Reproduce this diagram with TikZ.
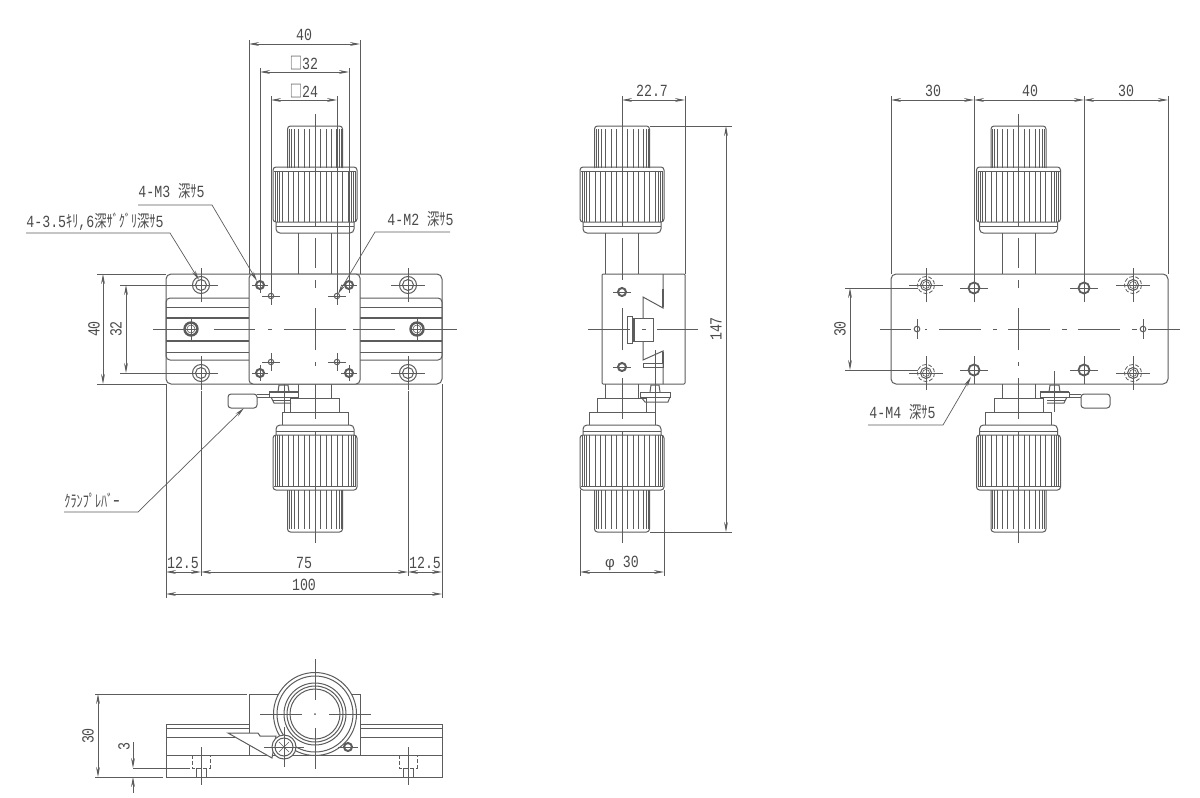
\documentclass[tikz,border=0pt]{standalone}
\usepackage{fontspec}
\setmainfont{Liberation Mono}[FakeStretch=0.78]
\newfontfamily\jpfont{Noto Sans CJK JP}[FakeStretch=0.72]
\newfontfamily\grfont{Liberation Sans}
\usetikzlibrary{arrows.meta, positioning}
\definecolor{lineink}{RGB}{92,92,92}
\definecolor{textink}{RGB}{75,75,75}
\tikzset{>={Stealth[length=5pt,width=1.9pt]},
  outl/.style={draw=lineink,line width=0.5pt},
  heavy/.style={draw=lineink,line width=1pt},
  fine/.style={draw=lineink,line width=0.3pt},
  cline/.style={draw=lineink,line width=0.4pt},
  dimln/.style={draw=lineink,line width=0.35pt},
  hidn/.style={draw=lineink,line width=0.4pt,dash pattern=on 2pt off 1pt},
  lbl/.style={font=\fontsize{8.5}{10}\selectfont,text=textink,inner sep=0pt}}
% one knob pair, centred on x=0
\newcommand{\knobpair}{
  \draw[outl,fill=white,rounded corners=1.5pt] (-27.5,168) -- (-27.5,126) -- (27.5,126) -- (27.5,168);
  \foreach \r in {0,5.5,11,16.5,21,24,26} {
    \draw[fine] (\r,129) -- (\r,168);
    \draw[fine] (-\r,129) -- (-\r,168);
    \draw[fine] (\r,490) -- (\r,529);
    \draw[fine] (-\r,490) -- (-\r,529);
  }
  \draw[outl,fill=none,rounded corners=1.5pt] (-27.5,490) -- (-27.5,532) -- (27.5,532) -- (27.5,490);
  \draw[outl,rounded corners=1.5pt] (-42,222) -- (-42,167) -- (42,167) -- (42,222) -- cycle;
  \draw[outl,rounded corners=1.5pt] (-42,490) -- (-42,435) -- (42,435) -- (42,490) -- cycle;
  \draw[fine] (-41,171) -- (41,171);
  \draw[fine] (-41,486) -- (41,486);
  \foreach \r in {0,5.5,11,16.5,22,27,33,36,38,40} {
    \draw[fine] (\r,171) -- (\r,222);
    \draw[fine] (-\r,171) -- (-\r,222);
    \draw[fine] (\r,435) -- (\r,486);
    \draw[fine] (-\r,435) -- (-\r,486);
  }
  \draw[outl,rounded corners=2pt] (-39,222) -- (-39,233) -- (39,233) -- (39,222);
  \draw[fine] (-39,226) -- (39,226);
  \draw[outl,rounded corners=2pt] (-39,435) -- (-39,425) -- (39,425) -- (39,435);
  \draw[fine] (-39,431) -- (39,431);
  \draw[outl] (-16.5,233) -- (-16.5,274);
  \draw[outl] (16.5,233) -- (16.5,274);
  \draw[outl] (-16.5,384) -- (-16.5,398);
  \draw[outl] (16.5,384) -- (16.5,398);
  \draw[outl] (-24.5,412) -- (-24.5,398) -- (24.5,398) -- (24.5,412);
  \draw[outl] (-33,425) -- (-33,412) -- (33,412) -- (33,425);
  \foreach \a/\b in {114/140,147/152,160/226,238/268,378/419,432/494,502/506,518/543}
    \draw[cline] (0,\a) -- (0,\b);
}
% clamp lever seen from the front
\newcommand{\clampfront}{
  \draw[outl,rounded corners=1.5pt] (228,394) -- (228,408) -- (257,408) -- (257,394) -- cycle;
  \draw[outl] (257,394) -- (269,394);
  \draw[outl] (257,397) -- (269,397);
  \draw[outl] (278,392) -- (279,385) -- (288,385) -- (289,392);
  \draw[heavy] (269,392) -- (298,392);
  \draw[outl] (269,392) -- (269,397) -- (298,397) -- (298,392);
  \draw[outl] (271,397) -- (274,403) -- (291,403);
  \draw[fine] (273,400) -- (291,400);
  \draw[cline] (284,371) -- (284,412);
}
\begin{document}
\begin{tikzpicture}[x=0.5pt,y=-0.5pt]
\useasboundingbox (0,0) rectangle (1200,798);

%front view
\begin{scope}[shift={(315,0)}] \knobpair \end{scope}
\clampfront
\draw[outl,rounded corners=2.5pt] (166,274) rectangle (442,384);
\draw[outl,rounded corners=2pt] (249,298) -- (166,298) -- (166,360) -- (249,360);
\draw[outl,rounded corners=2pt] (360,298) -- (442,298) -- (442,360) -- (360,360);
\foreach \ry in {307,352} {
  \draw[outl] (166,\ry) -- (249,\ry);
  \draw[outl] (360,\ry) -- (442,\ry);
}
\foreach \ry in {318,341} {
  \draw[heavy] (166,\ry) -- (249,\ry);
  \draw[heavy] (360,\ry) -- (442,\ry);
}
\draw[outl,fill=white,rounded corners=2pt] (249,274) rectangle (360,384);
\foreach \hx/\hy in {201/285,408/285,201/373,408/373} {
  \draw[outl] (\hx,\hy) circle (8.5);
  \draw[outl] (\hx,\hy) circle (5.5);
  \draw[cline] (\hx-17,\hy) -- (\hx+17,\hy);
  \draw[cline] (\hx,\hy-17) -- (\hx,\hy+17);
}
\foreach \hx in {191,417} {
  \draw[draw=lineink,line width=1.2pt] (\hx,329) circle (6.5);
  \draw[fine] (\hx,329) circle (4);
  \draw[cline] (\hx,317) -- (\hx,341);
}
\foreach \hx/\hy in {260/285,349/285,260/373,349/373} {
  \draw[heavy] (\hx,\hy) circle (4);
  \draw[cline] (\hx-8,\hy) -- (\hx+8,\hy);
  \draw[cline] (\hx,\hy-8) -- (\hx,\hy+8);
}
\foreach \hx/\hy in {271/296,337/296,271/362,337/362} {
  \draw[outl] (\hx,\hy) circle (2.7);
  \draw[cline] (\hx-9,\hy) -- (\hx+9,\hy);
  \draw[cline] (\hx,\hy-9) -- (\hx,\hy+9);
}
\foreach \a/\b in {153/196,214/255,268/272,284/346,337/342,353/395,411/457}
  \draw[cline] (\a,329) -- (\b,329);
\foreach \a/\b in {280/288,308/350,362/366}
  \draw[cline] (315,\a) -- (315,\b);

%front view dimensions
\foreach \ex/\ea/\eb in {249/40/274,360/40/274,260/68/280,349/68/280,271/96/290,337/96/290}
  \draw[dimln] (\ex,\ea) -- (\ex,\eb);
\draw[dimln,<->] (249,44) -- (360,44);
\draw[dimln,<->] (260,72) -- (349,72);
\draw[dimln,<->] (271,100) -- (337,100);
\node[lbl] (wtop) at (304,35) {40};
\node[lbl] (wmid) at (304,63) {{\jpfont □}32};
\node[lbl] (wlow) at (304,91) {{\jpfont □}24};
\foreach \ex/\ea/\eb in {166/384/598,201/391/576,408/391/576,442/384/598}
  \draw[dimln] (\ex,\ea) -- (\ex,\eb);
\draw[dimln,<->] (166,572) -- (201,572);
\draw[dimln,<->] (201,572) -- (408,572);
\draw[dimln,<->] (408,572) -- (442,572);
\draw[dimln,<->] (166,594) -- (442,594);
\node[lbl] (plA) at (183,563) {12.5};
\node[lbl] (plB) at (304,563) {75};
\node[lbl] (plC) at (425,563) {12.5};
\node[lbl] (plD) at (304,585) {100};
\draw[dimln] (97,274) -- (166,274);
\draw[dimln] (97,384) -- (166,384);
\draw[dimln] (120,285) -- (184,285);
\draw[dimln] (120,373) -- (184,373);
\draw[dimln,<->] (103,274) -- (103,384);
\draw[dimln,<->] (126,285) -- (126,373);
\node[lbl,rotate=90] (htall) at (94,329) {40};
\node[lbl,rotate=90] (hshort) at (116,329) {32};

%leaders
\node[lbl,anchor=west] (ldM3) at (138,191) {4-M3 {\jpfont 深ｻ}5};
\draw[dimln,->] (138,205) -- (212,205) -- (257,281);
\node[lbl,anchor=west] (ldCB) at (26,222) {4-3.5{\jpfont ｷﾘ},6{\jpfont 深ｻﾞｸﾞﾘ深ｻ}5};
\draw[dimln,->] (26,233) -- (170,233) -- (199,280);
\node[lbl,anchor=west] (ldM2) at (387,219) {4-M2 {\jpfont 深ｻ}5};
\draw[dimln,->] (450,232) -- (375,232) -- (338,294);
\node[lbl,anchor=west] (ldCL) at (64,501) {\jpfont ｸﾗﾝﾌﾟﾚﾊﾞｰ};
\draw[dimln,->] (64,512) -- (138,512) -- (244,408);

%side view
\begin{scope}[shift={(622,0)}] \knobpair \end{scope}
\draw[outl,rounded corners=0.5pt] (602,274) rectangle (685,384);
\draw[outl] (663,274) -- (663,308) -- (643,297) -- (643,318);
\draw[outl] (643,341) -- (643,360) -- (663,351) -- (663,384);
\draw[heavy] (663,289) -- (663,307);
\draw[heavy] (663,352) -- (663,363);
\draw[outl] (632,318) rectangle (653,341);
\draw[outl] (627,316) -- (632,316) -- (632,343) -- (627,343) -- cycle;
\draw[heavy] (634,318) -- (634,341);
\draw[outl] (643,363) rectangle (663,367);
\draw[outl] (640,392) -- (670,392) -- (670,397) -- (640,397) -- cycle;
\draw[outl] (650,392) -- (651,385) -- (659,385) -- (660,392);
\draw[outl] (641,397) -- (645,402) -- (668,402) -- (670,397);
\draw[cline] (655,350) -- (655,415);
\foreach \hx/\hy in {622/292,622/367} {
  \draw[heavy] (\hx,\hy) circle (4);
  \draw[cline] (\hx-9,\hy) -- (\hx+9,\hy);
}
\draw[cline] (622,260) -- (622,280);
\draw[cline] (622,308) -- (622,350);
\draw[cline] (588,329) -- (630,329);
\draw[cline] (642,329) -- (646,329);
\draw[cline] (657,329) -- (698,329);

%side view dimensions
\draw[dimln] (622,96) -- (622,114);
\draw[dimln] (685,96) -- (685,274);
\draw[dimln,<->] (622,100) -- (685,100);
\node[lbl] (sdA) at (652,91) {22.7};
\draw[dimln] (650,126) -- (732,126);
\draw[dimln] (650,532) -- (732,532);
\draw[dimln,<->] (726,126) -- (726,532);
\node[lbl,rotate=90] (sdB) at (716,329) {147};
\draw[dimln] (580,490) -- (580,576);
\draw[dimln] (664,490) -- (664,576);
\draw[dimln,<->] (580,572) -- (664,572);
\node[lbl] (sdC) at (622,563) {{\grfont\fontsize{7.5}{9}\selectfont φ} 30};

%right view
\begin{scope}[shift={(1018.5,0)}] \knobpair \end{scope}
\begin{scope}[shift={(1338,0)},xscale=-1] \clampfront \end{scope}
\draw[outl,rounded corners=2.5pt] (891,274) rectangle (1168,384);
\foreach \hx/\hy in {974/288,1084/288,974/370,1084/370} {
  \draw[draw=lineink,line width=0.9pt] (\hx,\hy) circle (5.5);
  \draw[cline] (\hx-14,\hy) -- (\hx+14,\hy);
  \draw[cline] (\hx,\hy-14) -- (\hx,\hy+14);
}
\foreach \hx/\hy in {926/285,1133/285,926/373,1133/373} {
  \draw[hidn] (\hx,\hy) circle (8.5);
  \draw[outl] (\hx,\hy) circle (5.5);
  \draw[fine] (\hx,\hy) circle (3.5);
  \draw[cline] (\hx-17,\hy) -- (\hx+17,\hy);
  \draw[cline] (\hx,\hy-17) -- (\hx,\hy+17);
}
\foreach \hx in {917,1143} {
  \draw[outl] (\hx,329) circle (2.8);
  \draw[cline] (\hx,319) -- (\hx,339);
}
\foreach \a/\b in {880/911,925/927,939/981,993/997,1008/1050,1062/1067,1078/1120,1132/1137,1148/1180}
  \draw[cline] (\a,329) -- (\b,329);
\foreach \a/\b in {280/288,308/350,362/366}
  \draw[cline] (1018.5,\a) -- (1018.5,\b);

%right view dimensions
\foreach \ex in {891,974,1084,1168}
  \draw[dimln] (\ex,96) -- (\ex,274);
\draw[dimln,<->] (891,100) -- (974,100);
\draw[dimln,<->] (974,100) -- (1084,100);
\draw[dimln,<->] (1084,100) -- (1168,100);
\node[lbl] (rdA) at (933,91) {30};
\node[lbl] (rdB) at (1030,91) {40};
\node[lbl] (rdC) at (1126,91) {30};
\draw[dimln] (845,288) -- (918,288);
\draw[dimln] (845,370) -- (918,370);
\draw[dimln,<->] (850,288) -- (850,370);
\node[lbl,rotate=90] (rdD) at (840,329) {30};
\node[lbl,anchor=west] (ldM4) at (869,412) {4-M4 {\jpfont 深ｻ}5};
\draw[dimln,->] (868,425) -- (943,425) -- (971,377);

%low view
\draw[outl] (166,724) rectangle (442,777);
\draw[outl] (166,728) -- (442,728);
\draw[outl] (166,737) -- (442,737);
\draw[outl] (166,755) -- (442,755);
\draw[outl,fill=white] (249,694) rectangle (360,755);
\draw[outl,fill=white] (315,714) circle (41.5);
\draw[outl] (315,714) circle (38);
\draw[outl] (315,714) circle (31);
\draw[outl] (315,714) circle (28);
\draw[outl] (315,714) circle (25);
\draw[outl,fill=white] (228,733) -- (258,733) -- (260,736) -- (276,736) -- (272,758) -- cycle;
\draw[outl,fill=white] (284,747) circle (12);
\draw[outl] (284,747) circle (9);
\draw[fine] (279,742) -- (289,752);
\draw[fine] (279,752) -- (289,742);
\draw[cline] (264,747) -- (304,747);
\draw[cline] (284,727) -- (284,767);
\draw[heavy] (348,747) circle (4);
\draw[cline] (338,747) -- (358,747);
\foreach \a/\b in {260/302,329/371}
  \draw[cline] (\a,714) -- (\b,714);
\foreach \a/\b in {659/700,728/769}
  \draw[cline] (315,\a) -- (315,\b);
\fill[lineink] (315,714) circle (1);
\foreach \sx in {201,408} {
  \draw[hidn] (\sx-9,755) -- (\sx-9,768) -- (\sx+9,768) -- (\sx+9,755);
  \draw[outl] (\sx-5,768) -- (\sx-5,777);
  \draw[outl] (\sx+5,768) -- (\sx+5,777);
  \draw[cline] (\sx,747) -- (\sx,785);
}

%low view dimensions
\draw[dimln] (95,694) -- (247,694);
\draw[dimln] (95,777) -- (163,777);
\draw[dimln] (133,768) -- (190,768);
\draw[dimln,<->] (98,694) -- (98,777);
\draw[dimln,->] (133,742) -- (133,768);
\draw[dimln,->] (133,793) -- (133,777);
\node[lbl,rotate=90] (ldA) at (88,736) {30};
\node[lbl,rotate=90] (ldB) at (124,747) {3};
\end{tikzpicture}
\end{document}
